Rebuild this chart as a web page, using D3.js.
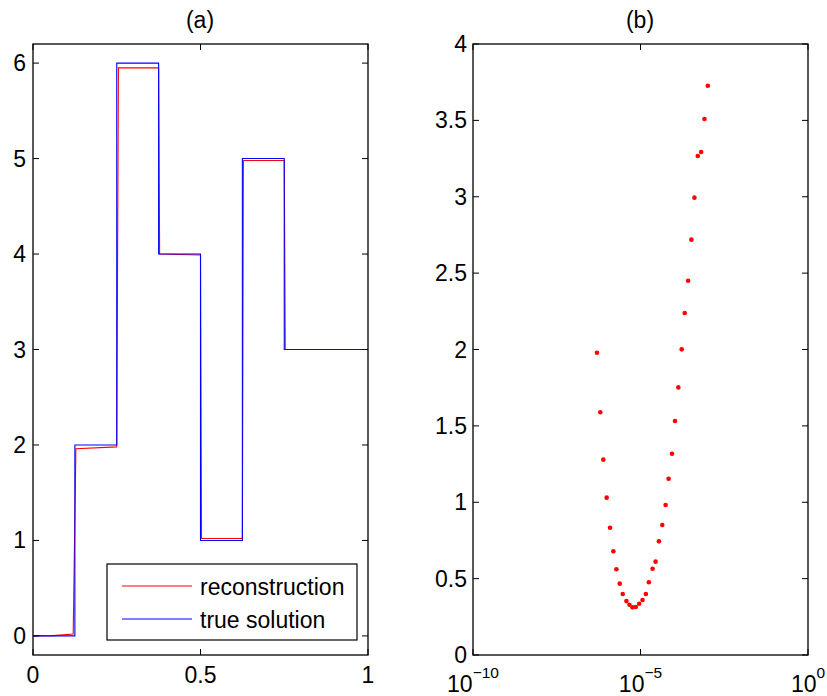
<!DOCTYPE html>
<html><head><meta charset="utf-8">
<script src="https://cdn.jsdelivr.net/npm/d3@7"></script>
<style>body{margin:0;background:#fff}svg{display:block}text{font-family:"Liberation Sans",Arial,sans-serif;fill:#000}</style>
</head><body><svg id="c" width="827" height="696"></svg>
<script>
// Panel (a) data
const trueBreaks = [0, 0.125, 0.25, 0.375, 0.5, 0.625, 0.75, 1];
const trueLevels = [0, 2, 6, 4, 1, 5, 3, 3];
const recX = [0, 0.06, 0.12, 0.128, 0.25, 0.255, 0.375, 0.378, 0.5, 0.503, 0.625, 0.628, 0.75, 0.753, 1];
const recY = [0, 0.003, 0.02, 1.96, 1.98, 5.95, 5.95, 4.0, 3.99, 1.02, 1.02, 4.98, 4.98, 3.0, 3.0];
const aXTicks = [0, 0.5, 1];
const aXTickLabels = ["0", "0.5", "1"];
const aYTicks = [0, 1, 2, 3, 4, 5, 6];
const legendLabels = ["reconstruction", "true solution"];
// Panel (b) data: log10(x) and y
const bLogX = [-6.30, -6.20, -6.11, -6.01, -5.91, -5.81, -5.72, -5.62, -5.53, -5.42, -5.33, -5.24, -5.14, -5.04, -4.94, -4.84, -4.75, -4.64, -4.55, -4.45, -4.35, -4.25, -4.16, -4.06, -3.97, -3.87, -3.77, -3.68, -3.58, -3.48, -3.39, -3.29, -3.19, -3.09, -2.99];
const bY = [1.979, 1.589, 1.279, 1.030, 0.833, 0.679, 0.561, 0.467, 0.399, 0.353, 0.329, 0.312, 0.314, 0.336, 0.360, 0.399, 0.476, 0.565, 0.611, 0.744, 0.851, 0.982, 1.154, 1.318, 1.532, 1.752, 2.001, 2.239, 2.450, 2.719, 2.994, 3.267, 3.293, 3.509, 3.727];
const bXTickExp = [-10, -5, 0];
const bYTicks = [0, 0.5, 1, 1.5, 2, 2.5, 3, 3.5, 4];

const svg = d3.select("#c");
const FS = 23, TL = 6;

function frame(g, x0, x1, y0, y1) {
  g.append("rect").attr("x", x0).attr("y", y1).attr("width", x1 - x0).attr("height", y0 - y1)
    .attr("fill", "none").attr("stroke", "#000").attr("stroke-width", 1.3);
}

// ---------- Panel (a)
const ax = d3.scaleLinear().domain([0, 1]).range([33, 368]);
const ay = d3.scaleLinear().domain([-0.2, 6.2]).range([655, 44]);
const ga = svg.append("g");
const line = d3.line().x(d => ax(d[0])).y(d => ay(d[1]));
ga.append("path").datum(recX.map((x, i) => [x, recY[i]]))
  .attr("d", line).attr("fill", "none").attr("stroke", "#ff0000").attr("stroke-width", 1.1);
ga.append("path").datum(trueBreaks.map((x, i) => [x, trueLevels[i]]))
  .attr("d", line.curve(d3.curveStepAfter)).attr("fill", "none").attr("stroke", "#0000ff").attr("stroke-width", 1.1);
line.curve(d3.curveLinear);
frame(ga, 33, 368, 655, 44);
aXTicks.forEach((t, i) => {
  const x = ax(t);
  ga.append("line").attr("x1", x).attr("x2", x).attr("y1", 655).attr("y2", 655 - TL).attr("stroke", "#000");
  ga.append("line").attr("x1", x).attr("x2", x).attr("y1", 44).attr("y2", 44 + TL).attr("stroke", "#000");
  ga.append("text").attr("x", x).attr("y", 683).attr("text-anchor", "middle").attr("font-size", FS).text(aXTickLabels[i]);
});
aYTicks.forEach(t => {
  const y = ay(t);
  ga.append("line").attr("x1", 33).attr("x2", 33 + TL).attr("y1", y).attr("y2", y).attr("stroke", "#000");
  ga.append("line").attr("x1", 368).attr("x2", 368 - TL).attr("y1", y).attr("y2", y).attr("stroke", "#000");
  ga.append("text").attr("x", 26).attr("y", y + 8).attr("text-anchor", "end").attr("font-size", FS).text(t);
});
ga.append("text").attr("x", 200).attr("y", 28).attr("text-anchor", "middle").attr("font-size", FS).text("(a)");
// legend
ga.append("rect").attr("x", 107).attr("y", 564).attr("width", 250).attr("height", 76)
  .attr("fill", "#fff").attr("stroke", "#000").attr("stroke-width", 1.2);
const legColors = ["#ff0000", "#0000ff"];
legendLabels.forEach((lab, i) => {
  const y = 586 + i * 33;
  ga.append("line").attr("x1", 122).attr("x2", 192).attr("y1", y).attr("y2", y).attr("stroke", legColors[i]).attr("stroke-width", 1.1);
  ga.append("text").attr("x", 200).attr("y", y + 9).attr("font-size", FS).text(lab);
});

// ---------- Panel (b)
const bx = d3.scaleLog().domain([1e-10, 1]).range([473, 808]);
const by = d3.scaleLinear().domain([0, 4]).range([655, 44]);
const gb = svg.append("g");
gb.selectAll("circle").data(bLogX.map((lx, i) => [Math.pow(10, lx), bY[i]])).enter()
  .append("circle").attr("cx", d => bx(d[0])).attr("cy", d => by(d[1])).attr("r", 2.3).attr("fill", "#ff0000");
frame(gb, 473, 808, 655, 44);
bXTickExp.forEach(e => {
  const x = bx(Math.pow(10, e));
  gb.append("line").attr("x1", x).attr("x2", x).attr("y1", 655).attr("y2", 655 - TL).attr("stroke", "#000");
  gb.append("line").attr("x1", x).attr("x2", x).attr("y1", 44).attr("y2", 44 + TL).attr("stroke", "#000");
  const t = gb.append("text").attr("x", x).attr("y", 692).attr("font-size", FS).attr("text-anchor", "middle");
  t.append("tspan").text("10");
  t.append("tspan").attr("dy", -14).attr("font-size", 15.5).text(e === 0 ? "0" : "\u2212" + Math.abs(e));
});
bYTicks.forEach(t => {
  const y = by(t);
  gb.append("line").attr("x1", 473).attr("x2", 473 + TL).attr("y1", y).attr("y2", y).attr("stroke", "#000");
  gb.append("line").attr("x1", 808).attr("x2", 808 - TL).attr("y1", y).attr("y2", y).attr("stroke", "#000");
  gb.append("text").attr("x", 467).attr("y", y + 8).attr("text-anchor", "end").attr("font-size", FS).text(t);
});
gb.append("text").attr("x", 640).attr("y", 28).attr("text-anchor", "middle").attr("font-size", FS).text("(b)");
</script></body></html>
